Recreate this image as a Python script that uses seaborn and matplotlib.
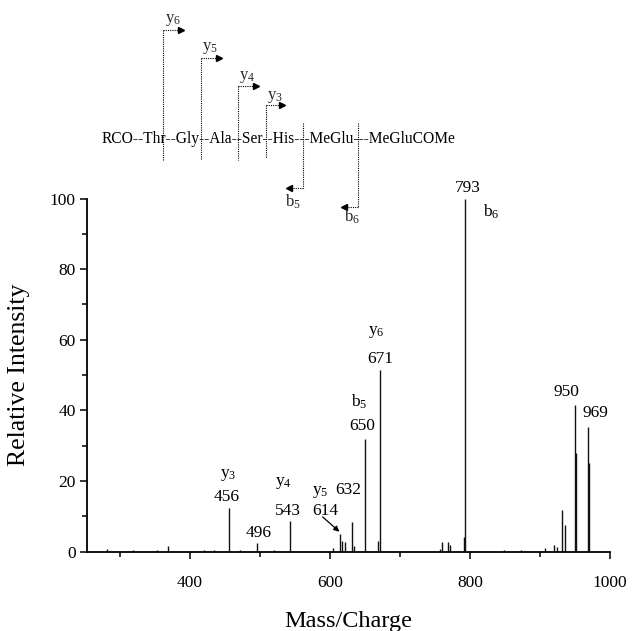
import matplotlib
matplotlib.use("Agg")
import matplotlib.pyplot as plt
import numpy as np
import pandas as pd
import seaborn as sns

# --- spectrum data -------------------------------------------------------
mz = [282, 319, 353, 369, 420, 435, 456, 472, 496, 520, 543, 604, 614, 617,
      622, 632, 634, 650, 669, 671, 757, 760, 769, 771, 791, 793, 848, 873,
      907, 920, 924, 932, 936, 950, 951, 969, 970]
intensity = [0.8, 0.4, 0.5, 1.5, 0.3, 0.3, 12.3, 0.4, 2.3, 0.4, 8.7, 0.9, 5.0,
             3.1, 2.6, 8.4, 1.5, 32.0, 3.0, 51.5, 0.8, 2.6, 2.8, 1.8, 4.0,
             100.0, 0.3, 0.4, 1.0, 1.9, 1.3, 11.8, 7.5, 41.5, 28.0, 35.2, 25.0]

# m/z value labels and their positions (data units)
mass_labels = ["456", "496", "543", "614", "632", "650", "671", "793", "950", "969"]
mass_label_x = [452.4, 498.6, 540.4, 592.9, 626.1, 646.7, 672.4, 797.6, 938.1, 978.6]
mass_label_y = [15.5, 5.3, 11.6, 11.6, 17.4, 35.6, 54.5, 102.9, 45.3, 39.2]

# fragment ion labels
ion_labels = [r"y$_3$", r"y$_4$", r"y$_5$", r"b$_5$", r"y$_6$", r"b$_6$"]
ion_label_x = [454.7, 533.3, 585.7, 641.4, 666.7, 831.0]
ion_label_y = [21.7, 19.3, 16.9, 42.4, 62.3, 96.3]

x_major = [400, 600, 800, 1000]
x_minor = [300, 500, 700, 900]
y_major = [0, 20, 40, 60, 80, 100]
y_minor = [10, 30, 50, 70, 90]

sequence = "RCO--Thr--Gly--Ala--Ser--His---MeGlu---MeGluCOMe"

# fragmentation scheme: (label, vertical x, top, bottom, arrow tip x, label x, label y) in pixels
y_ions = [("6", 163, 30, 160, 184, 173, 20),
          ("5", 201, 58, 160, 222, 210, 48),
          ("4", 238, 86, 160, 259, 247, 77),
          ("3", 266, 105, 158, 285, 275, 97)]
b_ions = [("5", 303, 123, 188, 286, 293, 202),
          ("6", 358, 123, 207, 341, 352, 217)]

df = pd.DataFrame({"mz": mz, "intensity": intensity})

# --- style ---------------------------------------------------------------
sns.set_theme(style="ticks")
plt.rcParams["font.family"] = ["Liberation Serif", "DejaVu Serif"]
plt.rcParams["mathtext.fontset"] = "custom"
plt.rcParams["mathtext.rm"] = "Liberation Serif"
plt.rcParams["mathtext.it"] = "Liberation Serif:italic"
plt.rcParams["axes.edgecolor"] = "black"
plt.rcParams["xtick.color"] = "black"
plt.rcParams["ytick.color"] = "black"

fig = plt.figure(figsize=(6.34, 6.31), dpi=100)
fig.patch.set_facecolor("white")
W, H = 634, 631
ax = fig.add_axes([87 / W, 1 - 551.5 / H, 523 / W, 353 / H])
ax.set_facecolor("white")

ax.vlines(df["mz"], 0, df["intensity"], color="#111111", linewidth=1.0)

ax.set_xlim(253, 1000)
ax.set_ylim(0, 100)
ax.set_xticks(x_major)
ax.set_xticks(x_minor, minor=True)
ax.set_yticks(y_major)
ax.set_yticks(y_minor, minor=True)
ax.tick_params(axis="both", which="major", direction="out", length=5, width=1.1,
               labelsize=12.5, colors="black", pad=3)
ax.tick_params(axis="both", which="minor", direction="out", length=3.5, width=1.1)
ax.tick_params(axis="x", which="major", pad=12)
sns.despine(ax=ax)
for side in ("left", "bottom"):
    ax.spines[side].set_linewidth(1.3)
    ax.spines[side].set_color("black")

ax.set_xlabel("Mass/Charge", fontsize=17.5, labelpad=14, color="black")
ax.set_ylabel("Relative Intensity", fontsize=18.5, labelpad=14, color="black")

for t, x, y in zip(mass_labels, mass_label_x, mass_label_y):
    ax.text(x, y, t, fontsize=12.5, ha="center", va="center", color="black")
for t, x, y in zip(ion_labels, ion_label_x, ion_label_y):
    ax.text(x, y, t, fontsize=12.5, ha="center", va="center", color="black")

# arrow from the 614 label to its peak
ax.annotate("", xy=(613.5, 5.6), xytext=(589.6, 9.8),
            arrowprops=dict(arrowstyle="-|>", color="black", lw=0.9,
                            mutation_scale=8, shrinkA=0, shrinkB=0))

# --- fragmentation scheme above the plot ---------------------------------
ov = fig.add_axes([0, 0, 1, 1])
ov.set_xlim(0, W)
ov.set_ylim(H, 0)
ov.axis("off")
ov.patch.set_alpha(0)

ov.text(102, 139, sequence, fontsize=11.2, ha="left", va="center", color="black")

dot = dict(color="black", lw=0.8, linestyle=(0, (1, 1)))
for sub, vx, top, bot, tip, lx, ly in y_ions:
    ov.plot([vx, vx], [top, bot], **dot)
    ov.plot([vx, tip - 5], [top, top], **dot)
    ov.plot(tip - 3, top, marker=">", color="black", markersize=5)
    ov.text(lx, ly, f"y$_{sub}$", fontsize=12, ha="center", va="center")
for sub, vx, top, bot, tip, lx, ly in b_ions:
    ov.plot([vx, vx], [top, bot], **dot)
    ov.plot([vx, tip + 5], [bot, bot], **dot)
    ov.plot(tip + 3, bot, marker="<", color="black", markersize=5)
    ov.text(lx, ly, f"b$_{sub}$", fontsize=12, ha="center", va="center")

fig.savefig("out.png", dpi=100, facecolor="white")
